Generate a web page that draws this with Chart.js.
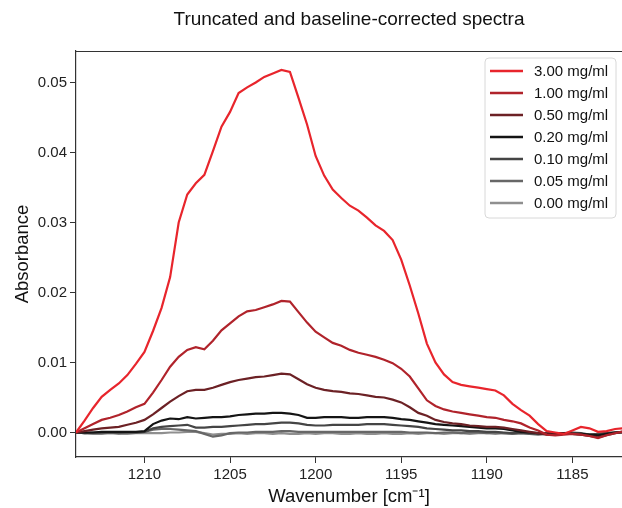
<!DOCTYPE html>
<html>
<head>
<meta charset="utf-8">
<script src="https://cdn.jsdelivr.net/npm/chart.js@4.4.1/dist/chart.umd.min.js"></script>
<style>
  html, body { margin: 0; padding: 0; background: #fff; }
  canvas { display: block; }
</style>
</head>
<body>
<canvas id="canvas" width="622" height="508"></canvas>
<script>
// wavenumber axis (cm^-1), every 0.5
var wavenumbers = [1214, 1213.5, 1213, 1212.5, 1212, 1211.5, 1211, 1210.5, 1210, 1209.5,
  1209, 1208.5, 1208, 1207.5, 1207, 1206.5, 1206, 1205.5, 1205, 1204.5,
  1204, 1203.5, 1203, 1202.5, 1202, 1201.5, 1201, 1200.5, 1200, 1199.5,
  1199, 1198.5, 1198, 1197.5, 1197, 1196.5, 1196, 1195.5, 1195, 1194.5,
  1194, 1193.5, 1193, 1192.5, 1192, 1191.5, 1191, 1190.5, 1190, 1189.5,
  1189, 1188.5, 1188, 1187.5, 1187, 1186.5, 1186, 1185.5, 1185, 1184.5,
  1184, 1183.5, 1183, 1182.5, 1182];

var labels = ['3.00 mg/ml', '1.00 mg/ml', '0.50 mg/ml', '0.20 mg/ml', '0.10 mg/ml', '0.05 mg/ml', '0.00 mg/ml'];
var colors = ['#e8252c', '#b0232b', '#6c2125', '#141414', '#454545', '#676767', '#8f8f8f'];

var abs300 = [0, 0.0017, 0.0035, 0.0051, 0.0061, 0.0070, 0.0082, 0.0098, 0.0115, 0.0145,
  0.0178, 0.0222, 0.0300, 0.0340, 0.0356, 0.0368, 0.0402, 0.0437, 0.0458, 0.0485,
  0.0493, 0.0500, 0.0508, 0.0513, 0.0518, 0.0515, 0.0478, 0.0440, 0.0395, 0.0367,
  0.0347, 0.0335, 0.0324, 0.0317, 0.0307, 0.0296, 0.0288, 0.0275, 0.0247, 0.0210,
  0.0170, 0.0127, 0.0100, 0.0083, 0.0072, 0.0068, 0.0066, 0.0064, 0.0062, 0.0060,
  0.0053, 0.0041, 0.0032, 0.0024, 0.0012, 0.0002, 0.0000, -0.0002, 0.0003, 0.0008,
  0.0006, 0.0001, 0.0002, 0.0005, 0.0006];

var abs100 = [0, 0.0006, 0.0012, 0.0018, 0.0021, 0.0025, 0.0030, 0.0036, 0.0041, 0.0057,
  0.0075, 0.0094, 0.0108, 0.0118, 0.0122, 0.0119, 0.0131, 0.0146, 0.0156, 0.0166,
  0.0173, 0.0175, 0.0179, 0.0183, 0.0188, 0.0187, 0.0172, 0.0157, 0.0144, 0.0136,
  0.0128, 0.0124, 0.0118, 0.0114, 0.0111, 0.0108, 0.0104, 0.0099, 0.0091, 0.0080,
  0.0063, 0.0046, 0.0038, 0.0033, 0.0030, 0.0028, 0.0026, 0.0024, 0.0022, 0.0021,
  0.0018, 0.0016, 0.0013, 0.0007, 0.0003, -0.0003, -0.0004, -0.0003, -0.0002, -0.0003,
  -0.0005, -0.0008, -0.0004, -0.0001, 0.0002];

var abs050 = [0, 0.0002, 0.0004, 0.0006, 0.0007, 0.0008, 0.0011, 0.0014, 0.0018, 0.0026,
  0.0035, 0.0044, 0.0052, 0.0059, 0.0061, 0.0061, 0.0064, 0.0068, 0.0072, 0.0075,
  0.0077, 0.0079, 0.0080, 0.0082, 0.0084, 0.0083, 0.0076, 0.0069, 0.0064, 0.0061,
  0.0059, 0.0058, 0.0056, 0.0055, 0.0053, 0.0051, 0.0050, 0.0047, 0.0043, 0.0036,
  0.0028, 0.0024, 0.0018, 0.0015, 0.0013, 0.0012, 0.0010, 0.0009, 0.0008, 0.0008,
  0.0007, 0.0005, 0.0003, 0.0001, -0.0001, -0.0003, -0.0003, -0.0002, -0.0002, -0.0003,
  -0.0005, -0.0007, -0.0004, -0.0001, 0.0001];

var abs020 = [0, 0.0000, 0.0000, 0.0001, 0.0001, 0.0001, 0.0001, 0.0001, 0.0002, 0.0012,
  0.0017, 0.0020, 0.0019, 0.0022, 0.0020, 0.0021, 0.0022, 0.0022, 0.0023, 0.0025,
  0.0026, 0.0027, 0.0027, 0.0028, 0.0028, 0.0027, 0.0025, 0.0021, 0.0021, 0.0022,
  0.0022, 0.0022, 0.0021, 0.0021, 0.0022, 0.0022, 0.0022, 0.0021, 0.0019, 0.0018,
  0.0016, 0.0014, 0.0012, 0.0011, 0.0010, 0.0009, 0.0008, 0.0007, 0.0006, 0.0006,
  0.0005, 0.0003, 0.0001, 0.0000, -0.0001, -0.0002, -0.0001, -0.0001, -0.0002, -0.0002,
  -0.0003, -0.0004, -0.0002, 0.0000, 0.0001];

var abs010 = [0, -0.0001, 0, 0, 0, 0, 0, 0, 0.0001, 0.0006,
  0.0008, 0.0009, 0.0010, 0.0011, 0.0007, 0.0007, 0.0008, 0.0008, 0.0009, 0.0010,
  0.0011, 0.0012, 0.0012, 0.0013, 0.0014, 0.0014, 0.0013, 0.0011, 0.0010, 0.0010,
  0.0011, 0.0011, 0.0011, 0.0011, 0.0012, 0.0012, 0.0012, 0.0011, 0.0010, 0.0009,
  0.0008, 0.0006, 0.0005, 0.0004, 0.0003, 0.0003, 0.0002, 0.0002, 0.0001, 0.0001,
  0.0000, -0.0001, 0.0000, -0.0001, -0.0002, -0.0001, -0.0002, -0.0001, 0.0000, -0.0001,
  -0.0003, -0.0002, -0.0001, 0.0000, 0.0000];

var abs005 = [0, -0.0001, -0.0001, -0.0001, 0, -0.0001, 0, 0, 0.0001, 0.0004,
  0.0005, 0.0005, 0.0004, 0.0003, 0.0002, -0.0002, -0.0006, -0.0004, -0.0001, 0.0000,
  0.0000, 0.0001, 0.0001, 0.0001, 0.0002, 0.0002, 0.0001, 0.0001, 0.0001, 0.0001,
  0.0001, 0.0001, 0.0001, 0.0001, 0.0001, 0.0001, 0.0001, 0.0001, 0.0001, 0.0000,
  0.0000, 0.0000, -0.0001, 0.0000, 0.0000, -0.0001, 0.0000, 0.0000, -0.0001, 0.0000,
  -0.0001, -0.0002, -0.0001, -0.0002, -0.0003, -0.0002, -0.0003, -0.0001, -0.0002, -0.0003,
  -0.0004, -0.0003, -0.0001, 0.0000, 0.0000];

var abs000 = [0, -0.0001, -0.0002, -0.0002, -0.0001, -0.0002, -0.0002, -0.0001, -0.0001, -0.0001,
  -0.0001, 0.0000, 0.0000, 0.0001, 0.0001, -0.0001, -0.0003, -0.0002, -0.0002, -0.0001,
  -0.0002, -0.0001, -0.0001, -0.0002, -0.0001, -0.0002, -0.0002, -0.0001, -0.0002, -0.0001,
  -0.0001, -0.0002, -0.0002, -0.0001, -0.0002, -0.0002, -0.0001, -0.0002, -0.0002, -0.0001,
  -0.0002, -0.0001, -0.0001, -0.0002, -0.0001, -0.0001, -0.0002, -0.0001, -0.0001, -0.0002,
  -0.0001, -0.0002, -0.0001, -0.0002, -0.0002, -0.0001, -0.0002, -0.0001, -0.0002, -0.0002,
  -0.0003, -0.0002, -0.0001, 0.0000, 0.0000];

var series = [abs300, abs100, abs050, abs020, abs010, abs005, abs000];

var xTicks = [1210, 1205, 1200, 1195, 1190, 1185];
var yTicks = [0.00, 0.01, 0.02, 0.03, 0.04, 0.05];

var FONT = "'Liberation Sans', Arial, Helvetica, sans-serif";

// join wavenumbers with each series
var datasets = series.map(function (vals, i) {
    return {
        label: labels[i],
        data: vals.map(function (v, j) { return { x: wavenumbers[j], y: v }; }),
        borderColor: colors[i],
        backgroundColor: colors[i],
        borderWidth: 2.2,
        pointRadius: 0,
        tension: 0,
        fill: false
    };
});

// title centred on the axes, top frame line and matplotlib-like legend
var extras = {
    id: 'extras',
    afterDraw: function (chart) {
        var ctx = chart.ctx;
        var area = chart.chartArea;
        ctx.save();

        ctx.strokeStyle = '#333';
        ctx.lineWidth = 1.2;
        ctx.beginPath();
        ctx.moveTo(area.left, area.top + 0.5);
        ctx.lineTo(area.right, area.top + 0.5);
        ctx.stroke();

        ctx.fillStyle = '#111';
        ctx.font = '19px ' + FONT;
        ctx.textAlign = 'center';
        ctx.textBaseline = 'middle';
        ctx.fillText('Truncated and baseline-corrected spectra', (area.left + area.right) / 2, 20);

        // legend box
        var bx = 485, by = 58, bw = 131, bh = 160, r = 4;
        ctx.fillStyle = 'rgba(255,255,255,0.85)';
        ctx.strokeStyle = '#d8d8d8';
        ctx.lineWidth = 1;
        ctx.beginPath();
        ctx.moveTo(bx + r, by);
        ctx.arcTo(bx + bw, by, bx + bw, by + bh, r);
        ctx.arcTo(bx + bw, by + bh, bx, by + bh, r);
        ctx.arcTo(bx, by + bh, bx, by, r);
        ctx.arcTo(bx, by, bx + bw, by, r);
        ctx.closePath();
        ctx.fill();
        ctx.stroke();

        ctx.font = '15px ' + FONT;
        ctx.textAlign = 'left';
        chart.data.datasets.forEach(function (ds, i) {
            var yy = 71 + i * 22;
            ctx.strokeStyle = ds.borderColor;
            ctx.lineWidth = 2.4;
            ctx.beginPath();
            ctx.moveTo(490, yy);
            ctx.lineTo(523, yy);
            ctx.stroke();
            ctx.fillStyle = '#111';
            ctx.fillText(ds.label, 534, yy + 1);
        });
        ctx.restore();
    }
};

var ctx = document.getElementById('canvas').getContext('2d');
var chart = new Chart(ctx, {
    type: 'line',
    data: { datasets: datasets },
    options: {
        responsive: false,
        animation: false,
        devicePixelRatio: 1,
        layout: { padding: { top: 51, right: 0, bottom: 0, left: 0 } },
        plugins: {
            legend: { display: false },
            title: { display: false },
            tooltip: { enabled: false }
        },
        scales: {
            x: {
                type: 'linear',
                reverse: true,
                min: 1182.1,
                max: 1214,
                afterBuildTicks: function (scale) {
                    scale.ticks = xTicks.map(function (v) { return { value: v }; });
                },
                afterFit: function (scale) { scale.height = 51; },
                grid: { drawOnChartArea: false, drawTicks: true, tickLength: 6, color: '#333' },
                border: { display: true, color: '#333', width: 1.2 },
                ticks: {
                    maxRotation: 0,
                    autoSkip: false,
                    padding: 3,
                    color: '#222',
                    font: { family: FONT, size: 15 },
                    callback: function (v) { return String(v); }
                },
                title: {
                    display: true,
                    text: 'Wavenumber [cm\u207B\u00B9]',
                    color: '#111',
                    padding: { top: 0, bottom: 0 },
                    font: { family: FONT, size: 18.5 }
                }
            },
            y: {
                min: -0.0035,
                max: 0.0545,
                afterBuildTicks: function (scale) {
                    scale.ticks = yTicks.map(function (v) { return { value: v }; });
                },
                afterFit: function (scale) { scale.width = 76; },
                grid: { drawOnChartArea: false, drawTicks: true, tickLength: 6, color: '#333' },
                border: { display: true, color: '#333', width: 1.2 },
                ticks: {
                    padding: 3,
                    color: '#222',
                    font: { family: FONT, size: 15 },
                    callback: function (v) { return v.toFixed(2); }
                },
                title: {
                    display: true,
                    text: 'Absorbance',
                    color: '#111',
                    padding: { top: 12, bottom: 0 },
                    font: { family: FONT, size: 18.5 }
                }
            }
        }
    },
    plugins: [extras]
});
</script>
</body>
</html>
